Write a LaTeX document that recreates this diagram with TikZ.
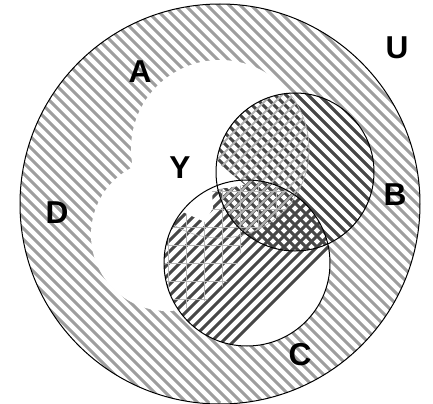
\documentclass[tikz,border=0pt]{standalone}
\usepackage{fontspec}
\setmainfont{Liberation Sans}

\tikzset{
  setlabel/.style={font=\fontsize{27}{29}\selectfont\bfseries, inner sep=0pt},
  ringstripe/.style={black!38, line width=0.95mm},
  darkstripe/.style={black!72, line width=0.95mm},
  faintstripe/.style={black!30, line width=0.6mm},
  gridline/.style={black!28, line width=0.15mm},
}

\begin{document}
\begin{tikzpicture}[x=0.3mm,y=0.3mm]
        \useasboundingbox (0,0) rectangle (433,403);
        \fill[white] (0,0) rectangle (433,403);

        % big circle, stripes going down to the right
        \begin{scope}
            \clip (220,199) circle (200);
            \foreach \c in {0,11,...,840}
                \draw[ringstripe] (\c,0) -- (0,\c);
        \end{scope}
        % white part of A, and under C
        \fill[white] (220,254) circle (89);
        \fill[white] (167,168) circle (76);
        \fill[white] (247,140) circle (83);

        % B
        \begin{scope}
            \clip (295,231) circle (79);
            \foreach \c in {330,341,...,700}
                \draw[darkstripe] (\c,0) -- (0,\c);
        \end{scope}
        % C
        \begin{scope}
            \clip (247,140) circle (83);
            \foreach \c in {-180,-169,...,180}
                \draw[darkstripe] (\c,0) -- (\c+403,403);
        \end{scope}
        % B and C where they lie in A
        \begin{scope}
            \clip (220,254) circle (89) (167,168) circle (76);
            \begin{scope}
                \clip (295,231) circle (79);
                \foreach \c in {-180,-169,...,180}
                    \draw[faintstripe] (\c,0) -- (\c+403,403);
            \end{scope}
            \begin{scope}
                \clip (247,140) circle (83);
                \foreach \g in {150,168,...,340}
                    \draw[gridline] (\g,50) -- (\g,230);
                \foreach \g in {50,68,...,230}
                    \draw[gridline] (150,\g) -- (340,\g);
            \end{scope}
        \end{scope}
        \fill[white] (214,255) -- (214,243) -- (245,218) -- (212,213)
            -- (213,195) -- (205,181) -- (183,191) -- (180,240) -- cycle;

        % faint edge of A inside B and C
        \begin{scope}
            \clip (295,231) circle (79) (247,140) circle (83);
            \draw[black!30,line width=0.2mm] (220,254) circle (89);
        \end{scope}

        \draw[line width=0.3mm] (220,199) circle (200);
        \draw[line width=0.3mm] (295,231) circle (79);
        \draw[line width=0.3mm] (247,140) circle (83);

        \node[setlabel] (labU) at (397,355) {U};
        \node[setlabel] (labA) at (140,331) {A};
        \node[setlabel] (labY) at (180,235) {Y};
        \node[setlabel] (labD) at (57,190) {D};
        \node[setlabel] (labB) at (395,208) {B};
        \node[setlabel] (labC) at (300,48) {C};
    \end{tikzpicture}
\end{document}
